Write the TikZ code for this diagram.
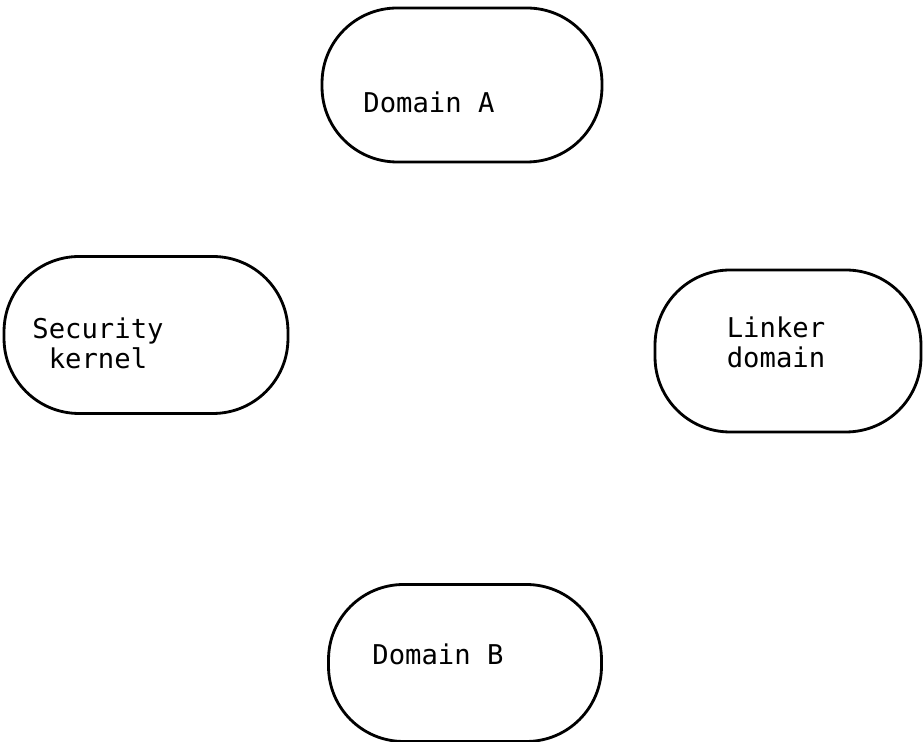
\documentclass[tikz,border=0pt]{standalone}
\usepackage{fontspec}
\setmonofont{DejaVu Sans Mono}
\tikzset{
	domainbox/.style={draw, line width=1.6pt, rounded corners=1.5cm, inner sep=0pt},
	domaintext/.style={font=\ttfamily\fontsize{15.5}{17}\selectfont, align=center}
}
\begin{document}
		\begin{tikzpicture}[x=0.02cm, y=-0.02cm]
			\useasboundingbox (0,0) rectangle (924,742);
			\node[domainbox, minimum width=5.6cm, minimum height=3.08cm] (doma) at (462,85) {};
			\node[domainbox, minimum width=5.68cm, minimum height=3.14cm] (kernel) at (146,335) {};
			\node[domainbox, minimum width=5.32cm, minimum height=3.24cm] (linker) at (788,351) {};
			\node[domainbox, minimum width=5.46cm, minimum height=3.14cm] (domb) at (465,663) {};
			\node[domaintext] (domatext) at (429,102) {Domain A};
			\node[domaintext] (kerneltext) at (98,343) {Security\\kernel};
			\node[domaintext] (linkertext) at (776,342) {Linker\\domain};
			\node[domaintext] (dombtext) at (438,654) {Domain B};
		\end{tikzpicture}
\end{document}
